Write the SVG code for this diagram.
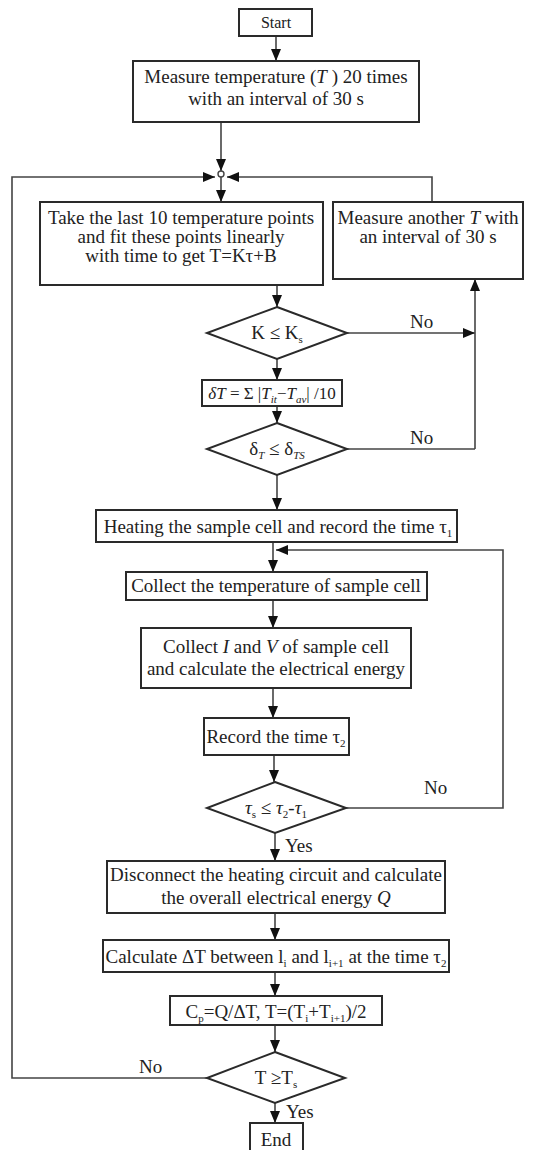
<svg xmlns="http://www.w3.org/2000/svg" width="557" height="1150" viewBox="0 0 557 1150">
<style>
.box{fill:#fff;stroke:#2a2a2a;stroke-width:2}
.t{font-family:"Liberation Serif","Times New Roman",serif;font-size:19px;fill:#222;text-anchor:middle}
.l{font-family:"Liberation Serif","Times New Roman",serif;font-size:19px;fill:#222}
.c{fill:none;stroke:#444;stroke-width:1.6}
.s{font-size:11px}
</style>
<defs>
<marker id="ah" markerUnits="userSpaceOnUse" markerWidth="12" markerHeight="12" viewBox="0 0 12 12" refX="12" refY="6" orient="auto">
<path d="M0,1 L12,6 L0,11 Z" fill="#111"/>
</marker>
</defs>
<rect width="557" height="1150" fill="#fff"/>
<g id="connectors">
<path class="c" d="M276,36 V61" marker-end="url(#ah)"/>
<path class="c" d="M221,122 V171" marker-end="url(#ah)"/>
<circle cx="221" cy="174" r="3" fill="#fff" stroke="#444" stroke-width="1.4"/>
<path class="c" d="M221,177 V202" marker-end="url(#ah)"/>
<path class="c" d="M207,1078 H12 V177 H215" marker-end="url(#ah)"/>
<path class="c" d="M432,202 V177 H227" marker-end="url(#ah)"/>
<path class="c" d="M277,285 V307" marker-end="url(#ah)"/>
<path class="c" d="M347,333 H475" marker-end="url(#ah)"/>
<path class="c" d="M475,449 V279" marker-end="url(#ah)"/>
<path class="c" d="M277,359 V380" marker-end="url(#ah)"/>
<path class="c" d="M277,406 V423" marker-end="url(#ah)"/>
<path class="c" d="M347,449 H475"/>
<path class="c" d="M277,475 V510" marker-end="url(#ah)"/>
<path class="c" d="M273,542 V572" marker-end="url(#ah)"/>
<path class="c" d="M346,808 H503 V550 H276" marker-end="url(#ah)"/>
<path class="c" d="M273,600 V628" marker-end="url(#ah)"/>
<path class="c" d="M273,688 V718" marker-end="url(#ah)"/>
<path class="c" d="M274,755 V782" marker-end="url(#ah)"/>
<path class="c" d="M275,833 V861" marker-end="url(#ah)"/>
<path class="c" d="M275,913 V940" marker-end="url(#ah)"/>
<path class="c" d="M275,972 V996" marker-end="url(#ah)"/>
<path class="c" d="M275,1025 V1052" marker-end="url(#ah)"/>
<path class="c" d="M275,1103 V1123" marker-end="url(#ah)"/>
<text class="l" x="410" y="328">No</text>
<text class="l" x="410" y="444">No</text>
<text class="l" x="424" y="794">No</text>
<text class="l" x="139" y="1073">No</text>
<text class="l" x="285" y="852">Yes</text>
<text class="l" x="286" y="1118">Yes</text>
</g>
<g id="start">
<rect class="box" x="239" y="9" width="73" height="27"/>
<text class="t" x="276" y="28" style="font-size:16px">Start</text>
</g>
<g id="measure20">
<rect class="box" x="133" y="61" width="286" height="61"/>
<text class="t" x="276" y="83">Measure temperature (<tspan font-style="italic">T</tspan> ) 20 times</text>
<text class="t" x="276" y="105">with an interval of 30 s</text>
</g>
<g id="fit">
<rect class="box" x="40" y="202" width="283" height="83"/>
<text class="t" x="181" y="224">Take the last 10 temperature points</text>
<text class="t" x="181" y="243">and fit these points linearly</text>
<text class="t" x="181" y="262">with time to get T=Kτ+B</text>
</g>
<g id="measureAnother">
<rect class="box" x="333" y="202" width="190" height="77"/>
<text class="t" x="428" y="224">Measure another <tspan font-style="italic">T</tspan> with</text>
<text class="t" x="428" y="243">an interval of 30 s</text>
</g>
<g id="decisionK">
<polygon class="box" points="277,307 347,333 277,359 207,333"/>
<text class="t" x="277" y="339">K ≤ K<tspan class="s" dy="4">s</tspan></text>
</g>
<g id="deltaT">
<rect class="box" x="202" y="380" width="140" height="26"/>
<text class="t" x="272" y="399" style="font-size:17px"><tspan font-style="italic">δT</tspan> = Σ |<tspan font-style="italic">T</tspan><tspan class="s" dy="4" font-style="italic">it</tspan><tspan dy="-4">−</tspan><tspan font-style="italic">T</tspan><tspan class="s" dy="4" font-style="italic">av</tspan><tspan dy="-4">| /10</tspan></text>
</g>
<g id="decisionDelta">
<polygon class="box" points="277,423 347,449 277,475 207,449"/>
<text class="t" x="277" y="455">δ<tspan class="s" dy="4" font-style="italic">T</tspan><tspan dy="-4"> ≤ δ</tspan><tspan class="s" dy="4" font-style="italic">TS</tspan></text>
</g>
<g id="heating">
<rect class="box" x="96" y="510" width="361" height="32"/>
<text class="t" x="278" y="533">Heating the sample cell and record the time τ<tspan class="s" dy="4">1</tspan></text>
</g>
<g id="collectT">
<rect class="box" x="126" y="572" width="301" height="28"/>
<text class="t" x="276" y="592">Collect the temperature of sample cell</text>
</g>
<g id="collectIV">
<rect class="box" x="141" y="628" width="270" height="60"/>
<text class="t" x="276" y="653">Collect <tspan font-style="italic">I</tspan> and <tspan font-style="italic">V</tspan> of sample cell</text>
<text class="t" x="276" y="675">and calculate the electrical energy</text>
</g>
<g id="record">
<rect class="box" x="204" y="718" width="145" height="37"/>
<text class="t" x="276" y="743">Record the time τ<tspan class="s" dy="4">2</tspan></text>
</g>
<g id="decisionTau">
<polygon class="box" points="275,782 346,808 275,833 207,808"/>
<text class="t" x="276" y="814"><tspan font-style="italic">τ</tspan><tspan class="s" dy="4">s</tspan><tspan dy="-4"> ≤ </tspan><tspan font-style="italic">τ</tspan><tspan class="s" dy="4">2</tspan><tspan dy="-4">-</tspan><tspan font-style="italic">τ</tspan><tspan class="s" dy="4">1</tspan></text>
</g>
<g id="disconnect">
<rect class="box" x="107" y="861" width="338" height="52"/>
<text class="t" x="276" y="881">Disconnect the heating circuit and calculate</text>
<text class="t" x="276" y="904">the overall electrical energy <tspan font-style="italic">Q</tspan></text>
</g>
<g id="calcDT">
<rect class="box" x="103" y="940" width="346" height="32"/>
<text class="t" x="276" y="963">Calculate ΔT between l<tspan class="s" dy="4">i</tspan><tspan dy="-4"> and l</tspan><tspan class="s" dy="4">i+1</tspan><tspan dy="-4"> at the time τ</tspan><tspan class="s" dy="4">2</tspan></text>
</g>
<g id="cp">
<rect class="box" x="170" y="996" width="212" height="29"/>
<text class="t" x="276" y="1018">C<tspan class="s" dy="4">p</tspan><tspan dy="-4">=Q/ΔT, T=(T</tspan><tspan class="s" dy="4">i</tspan><tspan dy="-4">+T</tspan><tspan class="s" dy="4">i+1</tspan><tspan dy="-4">)/2</tspan></text>
</g>
<g id="decisionT">
<polygon class="box" points="275,1052 345,1078 275,1103 207,1078"/>
<text class="t" x="276" y="1084">T ≥T<tspan class="s" dy="4">s</tspan></text>
</g>
<g id="end">
<rect class="box" x="250" y="1123" width="53" height="32"/>
<text class="t" x="276" y="1146">End</text>
</g>
</svg>
